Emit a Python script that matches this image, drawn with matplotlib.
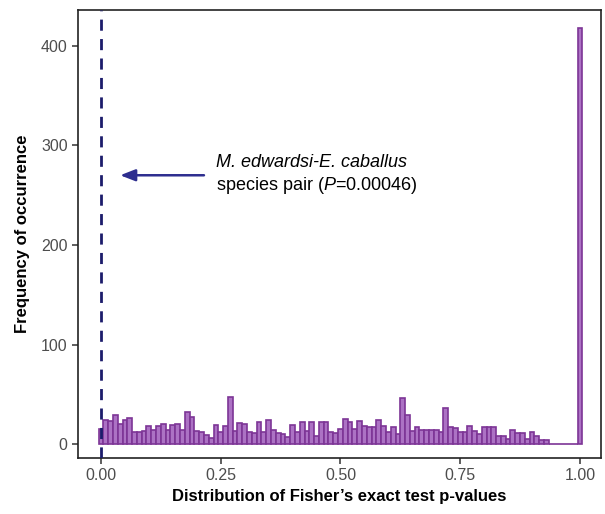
import matplotlib
matplotlib.use("Agg")
import matplotlib.pyplot as plt
import numpy as np

plt.rcParams['font.family'] = ['Liberation Sans', 'DejaVu Sans']
plt.rcParams['mathtext.fontset'] = 'custom'
plt.rcParams['mathtext.rm'] = 'Liberation Sans'
plt.rcParams['mathtext.it'] = 'Liberation Sans:italic'

# bin centres (p-value bins of width 0.01)
bin_centers = [round(0.01 * k, 2) for k in range(101)]
counts = [
    15, 24, 23, 29, 20, 24, 26, 12, 12, 13,
    18, 14, 18, 20, 14, 19, 20, 14, 32, 27,
    13, 12, 9, 6, 19, 12, 18, 47, 13, 21,
    20, 12, 11, 22, 12, 24, 14, 11, 10, 7,
    19, 12, 22, 13, 22, 8, 22, 22, 12, 11,
    15, 25, 22, 15, 23, 18, 17, 17, 24, 18,
    12, 17, 10, 46, 29, 13, 17, 14, 14, 14,
    14, 12, 36, 17, 16, 12, 12, 18, 13, 10,
    17, 17, 17, 8, 8, 5, 14, 11, 11, 5,
    12, 8, 4, 4, 0, 0, 0, 0, 0, 0,
    418,
]
x_ticks = [0.00, 0.25, 0.50, 0.75, 1.00]
x_ticklabels = ["0.00", "0.25", "0.50", "0.75", "1.00"]
y_ticks = [0, 100, 200, 300, 400]
observed_p = 0.00046

fig = plt.figure(figsize=(6.05, 5.14), dpi=100)
ax = fig.add_axes([78/605, 1 - 458/514, (601-78)/605, (458-10)/514])

ax.bar(bin_centers, counts, width=0.01, facecolor='#ac72c4',
       edgecolor='#7d3596', linewidth=1.2, zorder=2)
ax.axvline(observed_p, color='#1c1c6b', linestyle=(0, (4, 3)), linewidth=2, zorder=3)

ax.annotate("", xy=(0.04, 270), xytext=(0.215, 270),
            arrowprops=dict(arrowstyle='-|>,head_length=0.9,head_width=0.35',
                            color='#2e2e8f', lw=1.8, shrinkA=0, shrinkB=0))
ax.text(0.24, 283, "M. edwardsi-E. caballus", fontsize=13, fontstyle='italic',
        ha='left', va='center', color='black')
ax.text(0.24, 260, "species pair ($\\mathit{P}$=0.00046)", fontsize=13,
        ha='left', va='center', color='black')

ax.set_xlim(-0.048, 1.044)
ax.set_ylim(-14, 436)
ax.set_xticks(x_ticks)
ax.set_xticklabels(x_ticklabels)
ax.set_yticks(y_ticks)
ax.tick_params(axis='both', colors='#333333', labelcolor='#4d4d4d',
               labelsize=11.5, length=4, width=1.1)
for s in ax.spines.values():
    s.set_color('#222222')
    s.set_linewidth(1.2)

ax.set_xlabel("Distribution of Fisher\u2019s exact test p-values", fontsize=12,
              fontweight='bold', labelpad=4)
ax.set_ylabel("Frequency of occurrence", fontsize=12, fontweight='bold', labelpad=8)

fig.savefig("out.png", dpi=100)
